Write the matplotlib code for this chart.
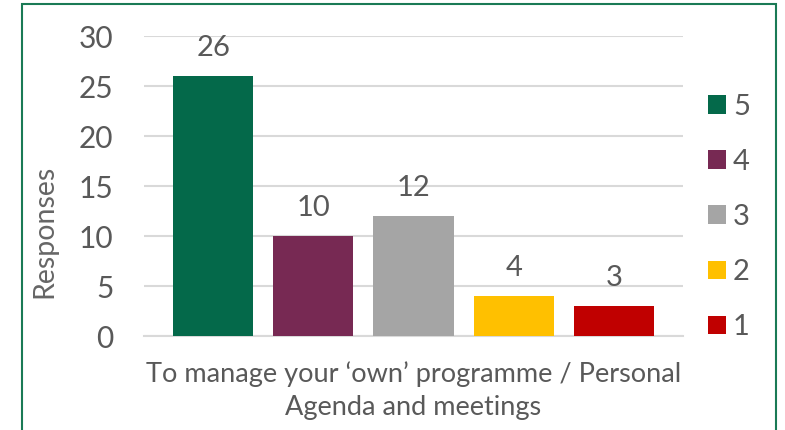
import matplotlib as mpl
mpl.use("Agg")
import matplotlib.pyplot as plt
from matplotlib.patches import Rectangle, Patch

# data
ratings = ['5', '4', '3', '2', '1']
responses = [26, 10, 12, 4, 3]
colours = ['#04694a', '#772953', '#a5a5a5', '#ffc000', '#c00000']
category = 'To manage your \u2018own\u2019 programme / Personal\nAgenda and meetings'
yticks = [0, 5, 10, 15, 20, 25, 30]

plt.rcParams['font.family'] = ['Lato', 'DejaVu Sans']
txtc = '#595959'

fig = plt.figure(figsize=(7.85, 4.3), dpi=100)
ax = fig.add_axes([144/785., 1-336/430., (683-144)/785., 300/430.])

xs = list(range(len(ratings)))
bars = ax.bar(xs, responses, width=0.8, color=colours, zorder=3)
for x, v in zip(xs, responses):
    ax.annotate(str(v), (x, v), xytext=(0, 11), textcoords='offset points',
                ha='center', va='bottom', fontsize=21, color=txtc)

ax.set_xlim(-0.69, 4.69)
ax.set_ylim(0, 30)
ax.set_yticks(yticks)
ax.yaxis.grid(True, color='#d9d9d9', linewidth=1.5, zorder=0)
ax.set_xticks([2])
ax.set_xticklabels([category], fontsize=19.5, color=txtc, linespacing=1.4)
ax.tick_params(axis='both', length=0, colors=txtc)
ax.tick_params(axis='y', labelsize=21.5, pad=22)
ax.tick_params(axis='x', pad=18)
for s in ['top', 'right', 'left']:
    ax.spines[s].set_visible(False)
ax.spines['bottom'].set_color('#d9d9d9')
ax.spines['bottom'].set_linewidth(1.5)
ax.set_ylabel('Responses', fontsize=20.5, color='#666666')
ax.yaxis.set_label_coords(-(144-44)/539., (336-231)/300.)
ax.yaxis.label.set_va('center')

handles = [Patch(facecolor=c, edgecolor='none') for c in colours]
fig.legend(handles, ratings, loc='center left', bbox_to_anchor=(682/785., 1-217/430.),
           frameon=False, fontsize=21, labelcolor=txtc, handlelength=0.6,
           handleheight=0.6, handletextpad=0.25, labelspacing=1.0)

# outer frame
fig.patches.append(Rectangle((22/785., -0.05), (776-22)/785., (430-4)/430.+0.05,
                             transform=fig.transFigure, fill=False,
                             edgecolor='#1a7a55', linewidth=1.5))

fig.savefig('out.png', dpi=100)
